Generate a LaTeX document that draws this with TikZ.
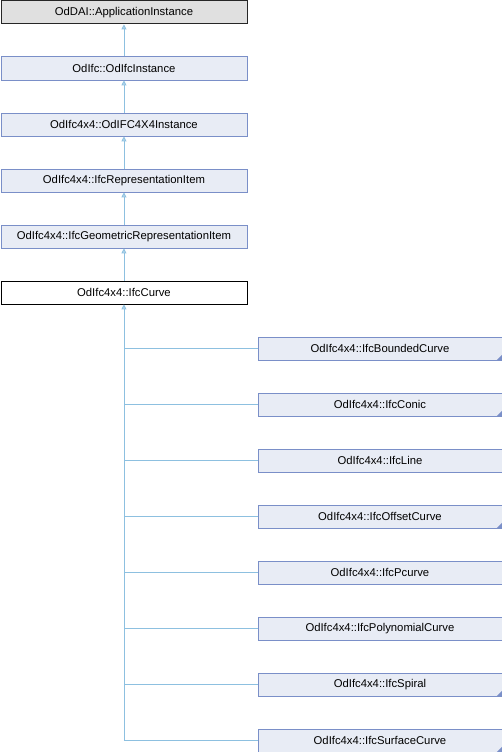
\documentclass[tikz,border=0pt]{standalone}
\usepackage{fontspec}
\setmainfont{Liberation Sans}
\usetikzlibrary{arrows.meta}
\definecolor{edgec}{HTML}{8DC0E0}
\definecolor{boxborder}{HTML}{7A8FC8}
\definecolor{boxfill}{HTML}{E8ECF5}
\definecolor{topfill}{HTML}{E0E0E0}
\begin{document}
\begin{tikzpicture}[x=1pt,y=-1pt,
  cls/.style={draw=boxborder,fill=boxfill,line width=0.9pt,minimum height=23pt,inner sep=0pt,font=\fontsize{11.3pt}{13pt}\selectfont,anchor=north west},
  leftcls/.style={cls,minimum width=246pt},
  rightcls/.style={cls,minimum width=244pt},
  rootcls/.style={leftcls,draw=black!85,fill=topfill},
  curcls/.style={leftcls,draw=black,fill=white},
  inh/.style={draw=edgec,line width=0.9pt,-{Triangle[open,fill=edgec!60,length=5pt,width=5pt]}},
  link/.style={draw=edgec,line width=0.9pt},
  cornermark/.style={fill=boxborder,draw=none}
]
\useasboundingbox (0,0) rectangle (502,752);
\node[rootcls] (a) at (0.5,0.5) {OdDAI::ApplicationInstance};
\node[leftcls] (b) at (0.5,56.5) {OdIfc::OdIfcInstance};
\node[leftcls] (c) at (0.5,112.5) {OdIfc4x4::OdIFC4X4Instance};
\node[leftcls] (d) at (0.5,168.5) {OdIfc4x4::IfcRepresentationItem};
\node[leftcls] (e) at (0.5,224.5) {OdIfc4x4::IfcGeometricRepresentationItem};
\node[curcls] (f) at (0.5,280.5) {OdIfc4x4::IfcCurve};
\draw[inh] (b.north) -- (a.south);
\draw[inh] (c.north) -- (b.south);
\draw[inh] (d.north) -- (c.south);
\draw[inh] (e.north) -- (d.south);
\draw[inh] (f.north) -- (e.south);
\foreach \n/\t/\y/\m in {g1/IfcBoundedCurve/336/1, g2/IfcConic/392/1, g3/IfcLine/448/0, g4/IfcOffsetCurve/504/1, g5/IfcPcurve/560/0, g6/IfcPolynomialCurve/616/0, g7/IfcSpiral/672/1, g8/IfcSurfaceCurve/728/1}{
  \node[rightcls] (\n) at (257.5,\y.5) {OdIfc4x4::\t};
  \ifnum\m=1
    \fill[cornermark] ([xshift=-0.5pt,yshift=0.5pt]\n.south east) -- ++(0,-5) -- ++(-5,5) -- cycle;
  \fi
}
\foreach \n in {g1,g2,g3,g4,g5,g6,g7,g8}{
  \draw[link] (f.south |- \n.west) -- (\n.west);
}
\draw[inh] (f.south |- g8.west) -- (f.south);
\end{tikzpicture}
\end{document}
